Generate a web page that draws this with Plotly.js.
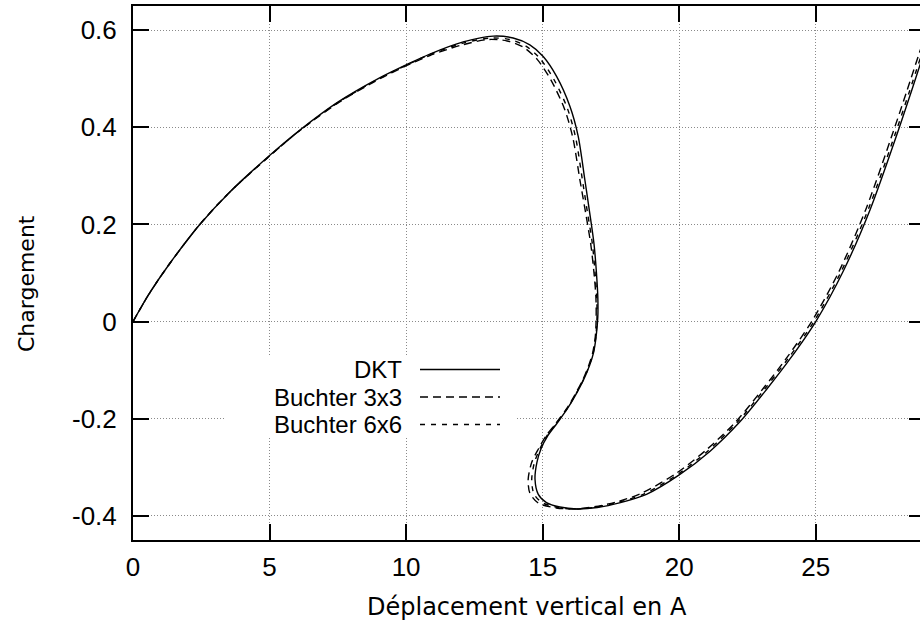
<!DOCTYPE html>
<html>
<head>
<meta charset="utf-8">
<script src="https://cdn.plot.ly/plotly-3.0.1.min.js"></script>
<style>
html,body{margin:0;padding:0;overflow:hidden;background:#fff;width:920px;height:628px;}
#chart{width:925px;height:628px;}
</style>
</head>
<body>
<div id="chart"></div>
<script>
// ---- data ----
const seriesNames = ["DKT", "Buchter 3x3", "Buchter 6x6"];

const dktX = [0,0.6,1.3,2.43,3.53,5.0,6.1,7.5,9.03,10.01,10.87,12.09,13.19,13.92,14.53,15.02,15.51,16.0,16.3,16.55,16.72,16.88,16.97,17.02,17.02,16.96,16.86,16.72,16.5,16.22,15.9,15.52,15.19,14.94,14.79,14.72,14.84,15.14,15.63,16.25,17.0,17.85,18.8,20.0,21.13,22.23,23.21,24.07,25.0,26.0,27.0,28.0,28.5,29.1];
const dktY = [0,0.058,0.116,0.199,0.266,0.342,0.394,0.452,0.502,0.529,0.551,0.576,0.588,0.584,0.570,0.546,0.505,0.443,0.382,0.29,0.225,0.16,0.1,0.05,0.01,-0.03,-0.065,-0.09,-0.12,-0.15,-0.18,-0.21,-0.235,-0.262,-0.29,-0.325,-0.356,-0.373,-0.382,-0.386,-0.383,-0.373,-0.356,-0.316,-0.267,-0.206,-0.139,-0.076,0.0,0.103,0.232,0.39,0.474,0.577];

const b3X = [0,0.6,1.3,2.43,3.53,5.0,6.1,7.5,9.03,10.01,10.87,12.0,13.0,13.7,14.3,14.8,15.3,15.8,16.1,16.37,16.57,16.76,16.88,16.95,16.96,16.93,16.83,16.69,16.47,16.19,15.87,15.48,15.13,14.85,14.6,14.47,14.53,14.84,15.5,16.2,16.95,17.75,18.65,19.88,21.0,22.08,23.06,23.92,24.85,25.85,26.84,27.83,28.33,28.93];
const b3Y = [0,0.058,0.116,0.199,0.266,0.341,0.393,0.45,0.5,0.527,0.548,0.569,0.581,0.578,0.565,0.54,0.498,0.438,0.38,0.29,0.225,0.16,0.1,0.05,0.01,-0.03,-0.065,-0.09,-0.12,-0.15,-0.18,-0.21,-0.235,-0.262,-0.29,-0.325,-0.353,-0.374,-0.384,-0.386,-0.381,-0.371,-0.353,-0.313,-0.264,-0.206,-0.139,-0.076,0.0,0.103,0.232,0.39,0.474,0.577];

const b6X = [0,0.6,1.3,2.43,3.53,5.0,6.1,7.5,9.03,10.01,10.87,12.05,13.1,13.8,14.4,14.9,15.4,15.9,16.2,16.46,16.64,16.82,16.92,16.98,16.99,16.95,16.85,16.71,16.49,16.21,15.89,15.5,15.16,14.9,14.7,14.6,14.68,14.98,15.55,16.22,16.97,17.8,18.72,19.94,21.06,22.15,23.13,23.99,24.93,25.93,26.93,27.93,28.43,29.03];
const b6Y = [0,0.058,0.116,0.199,0.266,0.341,0.393,0.451,0.501,0.528,0.55,0.573,0.584,0.581,0.567,0.542,0.5,0.44,0.381,0.29,0.225,0.16,0.1,0.05,0.01,-0.03,-0.065,-0.09,-0.12,-0.15,-0.18,-0.21,-0.235,-0.262,-0.29,-0.325,-0.355,-0.373,-0.383,-0.386,-0.382,-0.372,-0.355,-0.315,-0.266,-0.206,-0.139,-0.076,0.0,0.103,0.232,0.39,0.474,0.577];

const xTickVals = [0,5,10,15,20,25];
const xTickText = ["0","5","10","15","20","25"];
const yTickVals = [-0.4,-0.2,0,0.2,0.4,0.6];
const yTickText = ["-0.4","-0.2","0","0.2","0.4","0.6"];

const xTitle = "Déplacement vertical en A";
const yTitle = "Chargement";

// ---- styles ----
const dashes = ["solid", "8px,5px", "5px,6px"];
const seriesX = [dktX, b3X, b6X];
const seriesY = [dktY, b3Y, b6Y];

const traces = seriesNames.map((n, i) => ({
  type: "scatter", mode: "lines", name: n,
  x: seriesX[i], y: seriesY[i],
  line: {color: "#000", width: 1.4, dash: dashes[i], shape: "spline", smoothing: 0.8},
  showlegend: false
}));

// plot area geometry (pixels)
const W = 925, H = 628, ML = 133, MR = 0, MT = 6, MB = 88;
const PW = W - ML - MR, PH = H - MT - MB;
const px = v => (v - ML) / PW;
const py = v => (H - MB - v) / PH;

const tickFont = {family: "Liberation Sans, Arial, sans-serif", size: 26, color: "#000"};
const legendFont = {family: "Liberation Sans, Arial, sans-serif", size: 24, color: "#000"};
const titleFont = {family: "DejaVu Sans, sans-serif", size: 24, color: "#000"};

const shapes = [{
  type: "rect", xref: "paper", yref: "paper", layer: "above",
  x0: px(226), x1: px(516), y0: py(438), y1: py(357),
  fillcolor: "#fff", line: {width: 0}
}];
const annotations = [];
const legY = [369.5, 397, 424.5];
seriesNames.forEach((n, i) => {
  annotations.push({
    xref: "paper", yref: "paper", x: px(403), y: py(legY[i]),
    xanchor: "right", yanchor: "middle",
    borderpad: 0, text: n, showarrow: false, font: legendFont
  });
  shapes.push({
    type: "line", xref: "paper", yref: "paper", layer: "above",
    x0: px(420), x1: px(500), y0: py(legY[i]), y1: py(legY[i]),
    line: {color: "#000", width: 1.4, dash: dashes[i]}
  });
});
// axis titles
annotations.push({
  xref: "paper", yref: "paper", x: px(527), y: py(607),
  xanchor: "center", yanchor: "middle", text: xTitle, showarrow: false,
  font: titleFont
});
annotations.push({
  xref: "paper", yref: "paper", x: px(26), y: py(283),
  xanchor: "center", yanchor: "middle", text: yTitle, showarrow: false,
  textangle: -90, font: Object.assign({}, titleFont, {size: 22})
});

const axisCommon = {
  showline: true, linecolor: "#000", linewidth: 2, mirror: "ticks",
  ticks: "inside", ticklen: 16, tickwidth: 2, tickcolor: "#000",
  showgrid: true, gridcolor: "#8a8a8a", gridwidth: 1, griddash: "1px,2px",
  zeroline: false, tickfont: tickFont, tickmode: "array", automargin: false
};

const layout = {
  width: W, height: H,
  margin: {l: ML, r: MR, t: MT, b: MB},
  paper_bgcolor: "#fff", plot_bgcolor: "#fff",
  showlegend: false,
  xaxis: Object.assign({}, axisCommon, {
    range: [0, 29], tickvals: xTickVals, ticktext: xTickText,
    ticklabelstandoff: 3
  }),
  yaxis: Object.assign({}, axisCommon, {
    range: [-0.45, 0.65], tickvals: yTickVals, ticktext: yTickText,
    ticklabelstandoff: 9
  }),
  shapes: shapes,
  annotations: annotations
};

Plotly.newPlot("chart", traces, layout, {staticPlot: true, displayModeBar: false});
</script>
</body>
</html>
